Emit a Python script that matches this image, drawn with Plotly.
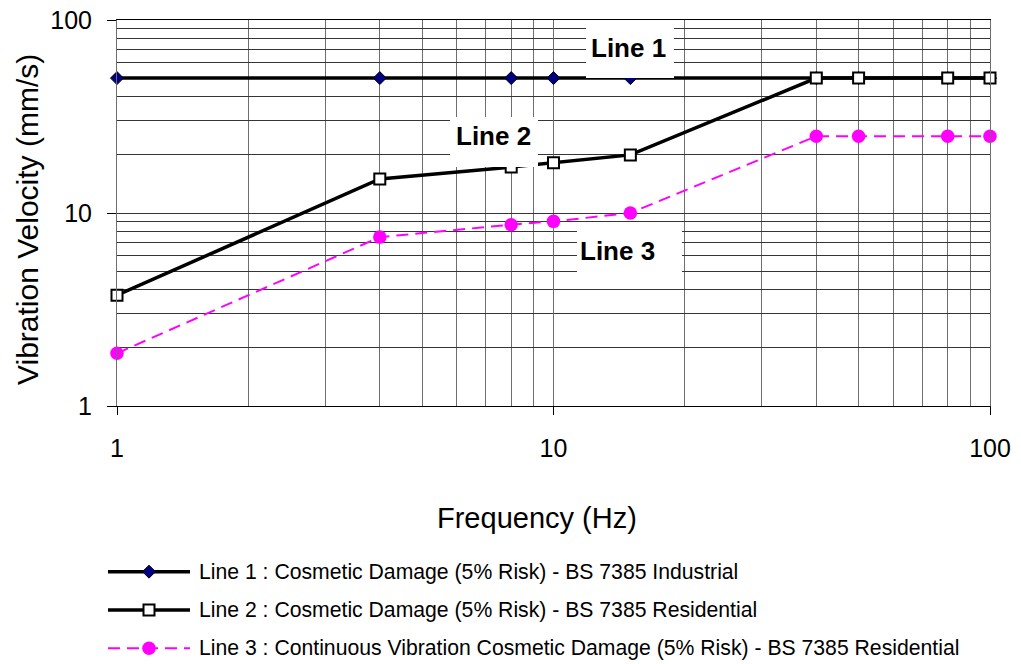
import plotly.graph_objects as go

# ---------------- data ----------------
freq = [1, 4, 8, 10, 15, 40, 50, 80, 100]
line1 = [50, 50, 50, 50, 50, 50, 50, 50, 50]
line2 = [3.75, 15, 17.3, 18.2, 20, 50, 50, 50, 50]
line3 = [1.875, 7.5, 8.7, 9.05, 10, 25, 25, 25, 25]

legend_labels = [
    "Line 1 : Cosmetic Damage (5% Risk) - BS 7385 Industrial",
    "Line 2 : Cosmetic Damage (5% Risk) - BS 7385 Residential",
    "Line 3 : Continuous Vibration Cosmetic Damage (5% Risk) - BS 7385 Residential",
]
box_labels = ["Line 1", "Line 2", "Line 3"]

W, H = 1021, 664
FONT = "Liberation Sans, Arial, sans-serif"


def px(x):
    return x / W


def py(y):
    return 1 - y / H


styles = [
    dict(line=dict(color="black", width=3.5),
         marker=dict(symbol="diamond", size=10, color="#000080",
                     line=dict(color="black", width=1))),
    dict(line=dict(color="black", width=3.5),
         marker=dict(symbol="square", size=11, color="white",
                     line=dict(color="black", width=2))),
    dict(line=dict(color="#FF00FF", width=2, dash="12px,7px"),
         marker=dict(symbol="circle", size=13.5, color="#FF00FF",
                     line=dict(color="#FF00FF", width=0))),
]

fig = go.Figure()
for ys, st in zip([line1, line2, line3], styles):
    fig.add_trace(go.Scatter(x=freq, y=ys, mode="lines+markers",
                             line=st["line"], marker=st["marker"],
                             showlegend=False, cliponaxis=False,
                             xaxis="x", yaxis="y"))

# custom legend samples (drawn in an auxiliary axis)
legend_rows = [2, 1, 0]
for row, st in zip(legend_rows, styles):
    fig.add_trace(go.Scatter(x=[0, 1], y=[row, row], mode="lines",
                             line=st["line"], showlegend=False,
                             xaxis="x2", yaxis="y2", hoverinfo="skip"))
    fig.add_trace(go.Scatter(x=[0.5], y=[row], mode="markers",
                             marker=st["marker"], showlegend=False,
                             xaxis="x2", yaxis="y2", hoverinfo="skip"))

hgrid = "#353535"
vgrid = "#6e6e6e"

fig.update_layout(
    template="none",
    width=W, height=H,
    margin=dict(l=0, r=0, t=0, b=0, pad=0, autoexpand=False),
    paper_bgcolor="white", plot_bgcolor="white",
    font=dict(family=FONT, color="black"),
    xaxis=dict(
        type="log", range=[0, 2], domain=[px(117), px(990)],
        dtick=1, showgrid=True, gridcolor=vgrid, gridwidth=1,
        minor=dict(dtick="D1", showgrid=True, gridcolor=vgrid, gridwidth=1, ticks=""),
        ticks="outside", ticklen=8, tickcolor="black", tickwidth=1,
        showline=True, linecolor="black", linewidth=1, mirror=True,
        tickfont=dict(size=25, family=FONT, color="black"),
        ticklabelstandoff=12, zeroline=False, automargin=False,
        anchor="y",
    ),
    yaxis=dict(
        type="log", range=[0, 2], domain=[py(406), py(20)],
        dtick=1, showgrid=True, gridcolor=hgrid, gridwidth=1,
        minor=dict(dtick="D1", showgrid=True, gridcolor=hgrid, gridwidth=1, ticks=""),
        ticks="outside", ticklen=9, tickcolor="black", tickwidth=1,
        showline=True, linecolor=vgrid, linewidth=1, mirror=True,
        tickfont=dict(size=25, family=FONT, color="black"),
        ticklabelstandoff=10, zeroline=False, automargin=False,
        anchor="x",
    ),
    xaxis2=dict(domain=[px(108), px(190)], range=[0, 1], visible=False,
                anchor="y2", fixedrange=True, automargin=False),
    yaxis2=dict(domain=[py(656), py(564)], range=[-0.2, 2.2], visible=False,
                anchor="x2", fixedrange=True, automargin=False),
)

shapes = []
annotations = []

# white label boxes + bold labels
boxes = [(586, 674, 25, 78), (450, 538, 117, 167), (577, 682, 228, 280)]
text_pos = [(628, 47.5), (493.5, 136), (617.5, 251)]
for (x0, x1, y0, y1), (tx, ty), lab in zip(boxes, text_pos, box_labels):
    shapes.append(dict(type="rect", xref="paper", yref="paper",
                       x0=px(x0), x1=px(x1), y0=py(y1), y1=py(y0),
                       fillcolor="white", line=dict(width=0), layer="above"))
    annotations.append(dict(text=lab, xref="paper", yref="paper",
                            x=px(tx), y=py(ty), xanchor="center", yanchor="middle",
                            showarrow=False,
                            font=dict(size=26, family=FONT, weight="bold", color="black")))

# axis titles
annotations.append(dict(text="Frequency (Hz)", xref="paper", yref="paper",
                        x=px(537), y=py(518), xanchor="center", yanchor="middle",
                        showarrow=False, font=dict(size=29, family=FONT, color="black")))
annotations.append(dict(text="Vibration Velocity (mm/s)", xref="paper", yref="paper",
                        x=px(27), y=py(220), xanchor="center", yanchor="middle",
                        textangle=-90, showarrow=False,
                        font=dict(size=30, family=FONT, color="black")))

# legend texts
for row, lab in zip(legend_rows, legend_labels):
    annotations.append(dict(text=lab, xref="x2 domain", yref="y2",
                            x=(197 - 108) / (190 - 108), y=row,
                            xanchor="left", yanchor="middle", showarrow=False,
                            font=dict(size=21.2, family=FONT, color="black")))

fig.update_layout(shapes=shapes, annotations=annotations)
fig.write_html(
    "out.html",
    config={"displayModeBar": False},
    post_script="document.body.style.margin='0';document.body.style.overflow='hidden';",
)
